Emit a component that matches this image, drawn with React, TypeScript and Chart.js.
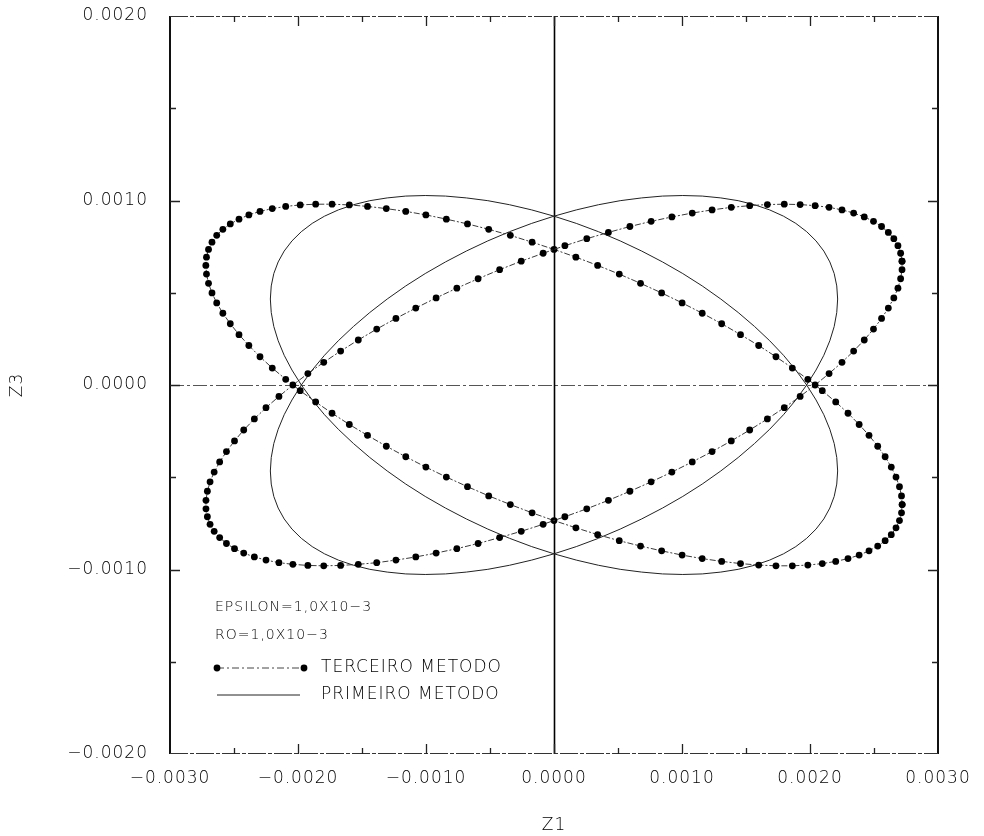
import React, { useEffect, useRef } from "react";
import { Chart, registerables } from "chart.js";

Chart.register(...registerables);

type Pt = [number, number];

// Third method: the two loops of the Z1/Z3 orbit, one entry per plotted dot.
const terceiroLoopA: Pt[] = [
  [2.719e-3, 0.671e-3], [2.708e-3, 0.714e-3], [2.687e-3, 0.755e-3], [2.655e-3, 0.793e-3], [2.612e-3, 0.827e-3],
  [2.559e-3, 0.859e-3], [2.496e-3, 0.887e-3], [2.424e-3, 0.911e-3], [2.341e-3, 0.932e-3], [2.25e-3, 0.949e-3],
  [2.149e-3, 0.963e-3], [2.04e-3, 0.972e-3], [1.923e-3, 0.978e-3], [1.799e-3, 0.98e-3], [1.667e-3, 0.978e-3],
  [1.529e-3, 0.972e-3], [1.385e-3, 0.963e-3], [1.235e-3, 0.949e-3], [1.08e-3, 0.932e-3], [0.921e-3, 0.911e-3],
  [0.759e-3, 0.887e-3], [0.593e-3, 0.859e-3], [0.425e-3, 0.827e-3], [0.256e-3, 0.793e-3], [0.085e-3, 0.755e-3],
  [-0.085e-3, 0.714e-3], [-0.256e-3, 0.671e-3], [-0.425e-3, 0.625e-3], [-0.593e-3, 0.576e-3], [-0.759e-3, 0.525e-3],
  [-0.921e-3, 0.472e-3], [-1.08e-3, 0.417e-3], [-1.235e-3, 0.361e-3], [-1.385e-3, 0.303e-3], [-1.529e-3, 0.244e-3],
  [-1.667e-3, 0.184e-3], [-1.799e-3, 0.123e-3], [-1.923e-3, 0.062e-3], [-2.04e-3, 0], [-2.149e-3, -0.062e-3],
  [-2.25e-3, -0.123e-3], [-2.341e-3, -0.184e-3], [-2.424e-3, -0.244e-3], [-2.496e-3, -0.303e-3], [-2.559e-3, -0.361e-3],
  [-2.612e-3, -0.417e-3], [-2.655e-3, -0.472e-3], [-2.687e-3, -0.525e-3], [-2.708e-3, -0.576e-3], [-2.719e-3, -0.625e-3],
  [-2.719e-3, -0.671e-3], [-2.708e-3, -0.714e-3], [-2.687e-3, -0.755e-3], [-2.655e-3, -0.793e-3], [-2.612e-3, -0.827e-3],
  [-2.559e-3, -0.859e-3], [-2.496e-3, -0.887e-3], [-2.424e-3, -0.911e-3], [-2.341e-3, -0.932e-3], [-2.25e-3, -0.949e-3],
  [-2.149e-3, -0.963e-3], [-2.04e-3, -0.972e-3], [-1.923e-3, -0.978e-3], [-1.799e-3, -0.98e-3], [-1.667e-3, -0.978e-3],
  [-1.529e-3, -0.972e-3], [-1.385e-3, -0.963e-3], [-1.235e-3, -0.949e-3], [-1.08e-3, -0.932e-3], [-0.921e-3, -0.911e-3],
  [-0.759e-3, -0.887e-3], [-0.593e-3, -0.859e-3], [-0.425e-3, -0.827e-3], [-0.256e-3, -0.793e-3], [-0.085e-3, -0.755e-3],
  [0.085e-3, -0.714e-3], [0.256e-3, -0.671e-3], [0.425e-3, -0.625e-3], [0.593e-3, -0.576e-3], [0.759e-3, -0.525e-3],
  [0.921e-3, -0.472e-3], [1.08e-3, -0.417e-3], [1.235e-3, -0.361e-3], [1.385e-3, -0.303e-3], [1.529e-3, -0.244e-3],
  [1.667e-3, -0.184e-3], [1.799e-3, -0.123e-3], [1.923e-3, -0.062e-3], [2.04e-3, 0], [2.149e-3, 0.062e-3],
  [2.25e-3, 0.123e-3], [2.341e-3, 0.184e-3], [2.424e-3, 0.244e-3], [2.496e-3, 0.303e-3], [2.559e-3, 0.361e-3],
  [2.612e-3, 0.417e-3], [2.655e-3, 0.472e-3], [2.687e-3, 0.525e-3], [2.708e-3, 0.576e-3], [2.719e-3, 0.625e-3],
];

const terceiroLoopB: Pt[] = [
  [2.72e-3, -0.648e-3], [2.715e-3, -0.693e-3], [2.699e-3, -0.735e-3], [2.672e-3, -0.774e-3], [2.635e-3, -0.811e-3],
  [2.587e-3, -0.844e-3], [2.529e-3, -0.873e-3], [2.461e-3, -0.899e-3], [2.384e-3, -0.922e-3], [2.297e-3, -0.941e-3],
  [2.201e-3, -0.956e-3], [2.096e-3, -0.968e-3], [1.983e-3, -0.976e-3], [1.862e-3, -0.98e-3], [1.734e-3, -0.98e-3],
  [1.599e-3, -0.976e-3], [1.457e-3, -0.968e-3], [1.31e-3, -0.956e-3], [1.158e-3, -0.941e-3], [1.001e-3, -0.922e-3],
  [0.841e-3, -0.899e-3], [0.676e-3, -0.873e-3], [0.51e-3, -0.844e-3], [0.341e-3, -0.811e-3], [0.171e-3, -0.774e-3],
  [0, -0.735e-3], [-0.171e-3, -0.693e-3], [-0.341e-3, -0.648e-3], [-0.51e-3, -0.601e-3], [-0.676e-3, -0.551e-3],
  [-0.841e-3, -0.499e-3], [-1.001e-3, -0.445e-3], [-1.158e-3, -0.389e-3], [-1.31e-3, -0.332e-3], [-1.457e-3, -0.273e-3],
  [-1.599e-3, -0.214e-3], [-1.734e-3, -0.153e-3], [-1.862e-3, -0.092e-3], [-1.983e-3, -0.031e-3], [-2.096e-3, 0.031e-3],
  [-2.201e-3, 0.092e-3], [-2.297e-3, 0.153e-3], [-2.384e-3, 0.214e-3], [-2.461e-3, 0.273e-3], [-2.529e-3, 0.332e-3],
  [-2.587e-3, 0.389e-3], [-2.635e-3, 0.445e-3], [-2.672e-3, 0.499e-3], [-2.699e-3, 0.551e-3], [-2.715e-3, 0.601e-3],
  [-2.72e-3, 0.648e-3], [-2.715e-3, 0.693e-3], [-2.699e-3, 0.735e-3], [-2.672e-3, 0.774e-3], [-2.635e-3, 0.811e-3],
  [-2.587e-3, 0.844e-3], [-2.529e-3, 0.873e-3], [-2.461e-3, 0.899e-3], [-2.384e-3, 0.922e-3], [-2.297e-3, 0.941e-3],
  [-2.201e-3, 0.956e-3], [-2.096e-3, 0.968e-3], [-1.983e-3, 0.976e-3], [-1.862e-3, 0.98e-3], [-1.734e-3, 0.98e-3],
  [-1.599e-3, 0.976e-3], [-1.457e-3, 0.968e-3], [-1.31e-3, 0.956e-3], [-1.158e-3, 0.941e-3], [-1.001e-3, 0.922e-3],
  [-0.841e-3, 0.899e-3], [-0.676e-3, 0.873e-3], [-0.51e-3, 0.844e-3], [-0.341e-3, 0.811e-3], [-0.171e-3, 0.774e-3],
  [0, 0.735e-3], [0.171e-3, 0.693e-3], [0.341e-3, 0.648e-3], [0.51e-3, 0.601e-3], [0.676e-3, 0.551e-3],
  [0.841e-3, 0.499e-3], [1.001e-3, 0.445e-3], [1.158e-3, 0.389e-3], [1.31e-3, 0.332e-3], [1.457e-3, 0.273e-3],
  [1.599e-3, 0.214e-3], [1.734e-3, 0.153e-3], [1.862e-3, 0.092e-3], [1.983e-3, 0.031e-3], [2.096e-3, -0.031e-3],
  [2.201e-3, -0.092e-3], [2.297e-3, -0.153e-3], [2.384e-3, -0.214e-3], [2.461e-3, -0.273e-3], [2.529e-3, -0.332e-3],
  [2.587e-3, -0.389e-3], [2.635e-3, -0.445e-3], [2.672e-3, -0.499e-3], [2.699e-3, -0.551e-3], [2.715e-3, -0.601e-3],
];

// First method: the same two loops, drawn as a plain line.
const primeiroLoopA: Pt[] = [
  [2.216e-3, 0.466e-3], [2.209e-3, 0.537e-3], [2.189e-3, 0.604e-3], [2.155e-3, 0.667e-3], [2.108e-3, 0.726e-3],
  [2.047e-3, 0.781e-3], [1.974e-3, 0.831e-3], [1.889e-3, 0.876e-3], [1.793e-3, 0.915e-3], [1.685e-3, 0.949e-3],
  [1.567e-3, 0.977e-3], [1.439e-3, 0.999e-3], [1.303e-3, 1.014e-3], [1.158e-3, 1.024e-3], [1.006e-3, 1.027e-3],
  [0.848e-3, 1.024e-3], [0.685e-3, 1.014e-3], [0.517e-3, 0.999e-3], [0.347e-3, 0.977e-3], [0.174e-3, 0.949e-3],
  [0, 0.915e-3], [-0.174e-3, 0.876e-3], [-0.347e-3, 0.831e-3], [-0.517e-3, 0.781e-3], [-0.685e-3, 0.726e-3],
  [-0.848e-3, 0.667e-3], [-1.006e-3, 0.604e-3], [-1.158e-3, 0.537e-3], [-1.303e-3, 0.466e-3], [-1.439e-3, 0.393e-3],
  [-1.567e-3, 0.317e-3], [-1.685e-3, 0.24e-3], [-1.793e-3, 0.161e-3], [-1.889e-3, 0.081e-3], [-1.974e-3, 0],
  [-2.047e-3, -0.081e-3], [-2.108e-3, -0.161e-3], [-2.155e-3, -0.24e-3], [-2.189e-3, -0.317e-3], [-2.209e-3, -0.393e-3],
  [-2.216e-3, -0.466e-3], [-2.209e-3, -0.537e-3], [-2.189e-3, -0.604e-3], [-2.155e-3, -0.667e-3], [-2.108e-3, -0.726e-3],
  [-2.047e-3, -0.781e-3], [-1.974e-3, -0.831e-3], [-1.889e-3, -0.876e-3], [-1.793e-3, -0.915e-3], [-1.685e-3, -0.949e-3],
  [-1.567e-3, -0.977e-3], [-1.439e-3, -0.999e-3], [-1.303e-3, -1.014e-3], [-1.158e-3, -1.024e-3], [-1.006e-3, -1.027e-3],
  [-0.848e-3, -1.024e-3], [-0.685e-3, -1.014e-3], [-0.517e-3, -0.999e-3], [-0.347e-3, -0.977e-3], [-0.174e-3, -0.949e-3],
  [0, -0.915e-3], [0.174e-3, -0.876e-3], [0.347e-3, -0.831e-3], [0.517e-3, -0.781e-3], [0.685e-3, -0.726e-3],
  [0.848e-3, -0.667e-3], [1.006e-3, -0.604e-3], [1.158e-3, -0.537e-3], [1.303e-3, -0.466e-3], [1.439e-3, -0.393e-3],
  [1.567e-3, -0.317e-3], [1.685e-3, -0.24e-3], [1.793e-3, -0.161e-3], [1.889e-3, -0.081e-3], [1.974e-3, 0],
  [2.047e-3, 0.081e-3], [2.108e-3, 0.161e-3], [2.155e-3, 0.24e-3], [2.189e-3, 0.317e-3], [2.209e-3, 0.393e-3],
];

const primeiroLoopB: Pt[] = [
  [2.216e-3, -0.466e-3], [2.209e-3, -0.537e-3], [2.189e-3, -0.604e-3], [2.155e-3, -0.667e-3], [2.108e-3, -0.726e-3],
  [2.047e-3, -0.781e-3], [1.974e-3, -0.831e-3], [1.889e-3, -0.876e-3], [1.793e-3, -0.915e-3], [1.685e-3, -0.949e-3],
  [1.567e-3, -0.977e-3], [1.439e-3, -0.999e-3], [1.303e-3, -1.014e-3], [1.158e-3, -1.024e-3], [1.006e-3, -1.027e-3],
  [0.848e-3, -1.024e-3], [0.685e-3, -1.014e-3], [0.517e-3, -0.999e-3], [0.347e-3, -0.977e-3], [0.174e-3, -0.949e-3],
  [0, -0.915e-3], [-0.174e-3, -0.876e-3], [-0.347e-3, -0.831e-3], [-0.517e-3, -0.781e-3], [-0.685e-3, -0.726e-3],
  [-0.848e-3, -0.667e-3], [-1.006e-3, -0.604e-3], [-1.158e-3, -0.537e-3], [-1.303e-3, -0.466e-3], [-1.439e-3, -0.393e-3],
  [-1.567e-3, -0.317e-3], [-1.685e-3, -0.24e-3], [-1.793e-3, -0.161e-3], [-1.889e-3, -0.081e-3], [-1.974e-3, 0],
  [-2.047e-3, 0.081e-3], [-2.108e-3, 0.161e-3], [-2.155e-3, 0.24e-3], [-2.189e-3, 0.317e-3], [-2.209e-3, 0.393e-3],
  [-2.216e-3, 0.466e-3], [-2.209e-3, 0.537e-3], [-2.189e-3, 0.604e-3], [-2.155e-3, 0.667e-3], [-2.108e-3, 0.726e-3],
  [-2.047e-3, 0.781e-3], [-1.974e-3, 0.831e-3], [-1.889e-3, 0.876e-3], [-1.793e-3, 0.915e-3], [-1.685e-3, 0.949e-3],
  [-1.567e-3, 0.977e-3], [-1.439e-3, 0.999e-3], [-1.303e-3, 1.014e-3], [-1.158e-3, 1.024e-3], [-1.006e-3, 1.027e-3],
  [-0.848e-3, 1.024e-3], [-0.685e-3, 1.014e-3], [-0.517e-3, 0.999e-3], [-0.347e-3, 0.977e-3], [-0.174e-3, 0.949e-3],
  [0, 0.915e-3], [0.174e-3, 0.876e-3], [0.347e-3, 0.831e-3], [0.517e-3, 0.781e-3], [0.685e-3, 0.726e-3],
  [0.848e-3, 0.667e-3], [1.006e-3, 0.604e-3], [1.158e-3, 0.537e-3], [1.303e-3, 0.466e-3], [1.439e-3, 0.393e-3],
  [1.567e-3, 0.317e-3], [1.685e-3, 0.24e-3], [1.793e-3, 0.161e-3], [1.889e-3, 0.081e-3], [1.974e-3, 0],
  [2.047e-3, -0.081e-3], [2.108e-3, -0.161e-3], [2.155e-3, -0.24e-3], [2.189e-3, -0.317e-3], [2.209e-3, -0.393e-3],
];

// Axes
const xTickValues = [-0.003, -0.002, -0.001, 0, 0.001, 0.002, 0.003];
const yTickValues = [-0.002, -0.001, 0, 0.001, 0.002];
const xMarkValues = [-0.0025, -0.002, -0.0015, -0.001, -0.0005, 0, 0.0005, 0.001, 0.0015, 0.002, 0.0025];
const yMarkValues = [-0.0015, -0.001, -0.0005, 0, 0.0005, 0.001, 0.0015];
const xTitle = "Z1";
const yTitle = "Z3";

// Legend block
const legendNotes = ["EPSILON=1,0X10\u22123", "RO=1,0X10\u22123"];
const seriesNames = ["TERCEIRO METODO", "PRIMEIRO METODO"];

const FONT = "'DejaVu Sans', 'Liberation Sans', sans-serif";

const closedLoop = (loop: Pt[]) => [...loop, loop[0]].map(([x, y]) => ({ x, y }));

const fmtTick = (v: number) =>
  (Math.abs(v) < 1e-12 ? 0 : v).toFixed(4).replace("-", "\u2212");

const isMajor = (v: number) => Math.abs(v * 1000 - Math.round(v * 1000)) < 1e-6;

const spacingPlugin = {
  id: "letterSpacing",
  beforeDraw(chart: any) {
    chart.ctx.letterSpacing = "1px";
  },
};

const framePlugin = {
  id: "plotFrame",
  beforeDatasetsDraw(chart: any) {
    const { ctx, chartArea: a, scales } = chart;
    const xs = scales.x;
    const ys = scales.y;
    ctx.save();

    // zero lines
    const x0 = Math.round(xs.getPixelForValue(0)) + 0.5;
    const y0 = Math.round(ys.getPixelForValue(0)) + 0.5;
    ctx.strokeStyle = "#555";
    ctx.lineWidth = 1;
    ctx.setLineDash([14, 3, 3, 3]);
    ctx.beginPath();
    ctx.moveTo(a.left, y0);
    ctx.lineTo(a.right, y0);
    ctx.stroke();
    ctx.setLineDash([]);
    ctx.strokeStyle = "#000";
    ctx.lineWidth = 1.6;
    ctx.beginPath();
    ctx.moveTo(x0, a.top);
    ctx.lineTo(x0, a.bottom);
    ctx.stroke();

    // frame
    ctx.strokeStyle = "#111";
    ctx.lineWidth = 2;
    ctx.beginPath();
    ctx.moveTo(a.left, a.top);
    ctx.lineTo(a.left, a.bottom);
    ctx.moveTo(a.right, a.top);
    ctx.lineTo(a.right, a.bottom);
    ctx.stroke();
    ctx.strokeStyle = "#333";
    ctx.lineWidth = 1;
    ctx.setLineDash([18, 2, 4, 2]);
    ctx.beginPath();
    ctx.moveTo(a.left, a.top + 0.5);
    ctx.lineTo(a.right, a.top + 0.5);
    ctx.moveTo(a.left, a.bottom - 0.5);
    ctx.lineTo(a.right, a.bottom - 0.5);
    ctx.stroke();
    ctx.setLineDash([]);

    // inward tick marks on all four sides
    ctx.strokeStyle = "#222";
    ctx.lineWidth = 1.3;
    ctx.beginPath();
    for (const v of xMarkValues) {
      const px = Math.round(xs.getPixelForValue(v)) + 0.5;
      const len = isMajor(v) ? 10 : 6;
      ctx.moveTo(px, a.top);
      ctx.lineTo(px, a.top + len);
      ctx.moveTo(px, a.bottom);
      ctx.lineTo(px, a.bottom - len);
    }
    for (const v of yMarkValues) {
      const py = Math.round(ys.getPixelForValue(v)) + 0.5;
      const len = isMajor(v) ? 10 : 6;
      ctx.moveTo(a.left, py);
      ctx.lineTo(a.left + len, py);
      ctx.moveTo(a.right, py);
      ctx.lineTo(a.right - len, py);
    }
    ctx.stroke();
    ctx.restore();
  },
};

const legendPlugin = {
  id: "methodLegend",
  afterDatasetsDraw(chart: any) {
    const { ctx, chartArea: a } = chart;
    ctx.save();
    ctx.fillStyle = "#000";
    ctx.textBaseline = "middle";
    ctx.textAlign = "left";

    ctx.font = `200 14px ${FONT}`;
    ctx.fillText(legendNotes[0], a.left + 45, a.top + 591);
    ctx.fillText(legendNotes[1], a.left + 45, a.top + 619);

    const x1 = a.left + 47;
    const x2 = a.left + 134;
    const yA = a.top + 652;
    const yB = a.top + 679;

    // third method sample: dotted ends joined by a dash-dot line
    ctx.strokeStyle = "#444";
    ctx.lineWidth = 1;
    ctx.setLineDash([7, 3, 2, 3]);
    ctx.beginPath();
    ctx.moveTo(x1, yA);
    ctx.lineTo(x2, yA);
    ctx.stroke();
    ctx.setLineDash([]);
    ctx.fillStyle = "#000";
    for (const px of [x1, x2]) {
      ctx.beginPath();
      ctx.arc(px, yA, 3.4, 0, Math.PI * 2);
      ctx.fill();
    }

    // first method sample: plain line
    ctx.strokeStyle = "#222";
    ctx.beginPath();
    ctx.moveTo(x1, yB);
    ctx.lineTo(x2 - 4, yB);
    ctx.stroke();

    ctx.fillStyle = "#000";
    ctx.font = `200 17px ${FONT}`;
    ctx.fillText(seriesNames[0], a.left + 151, yA);
    ctx.fillText(seriesNames[1], a.left + 151, yB);
    ctx.restore();
  },
};

export default function App() {
  const canvasRef = useRef<HTMLCanvasElement | null>(null);

  useEffect(() => {
    if (!canvasRef.current) return;
    const tickFont = { family: FONT, size: 17, weight: "200" as any };
    const dotted = {
      showLine: true,
      borderColor: "#3a3a3a",
      borderWidth: 1,
      borderDash: [6, 2, 2, 2],
      pointRadius: 3.4,
      pointBackgroundColor: "#000",
      pointBorderWidth: 0,
      tension: 0,
    };
    const plain = {
      showLine: true,
      borderColor: "#222",
      borderWidth: 1,
      pointRadius: 0,
      tension: 0,
    };
    const chart = new Chart(canvasRef.current, {
      type: "scatter",
      data: {
        datasets: [
          { label: seriesNames[0], data: closedLoop(terceiroLoopA), ...dotted },
          { label: seriesNames[0], data: closedLoop(terceiroLoopB), ...dotted },
          { label: seriesNames[1], data: closedLoop(primeiroLoopA), ...plain },
          { label: seriesNames[1], data: closedLoop(primeiroLoopB), ...plain },
        ],
      },
      options: {
        animation: false,
        responsive: true,
        maintainAspectRatio: false,
        events: [],
        layout: { padding: { top: 16, right: 46, bottom: 0, left: 0 } },
        plugins: {
          legend: { display: false },
          tooltip: { enabled: false },
        },
        scales: {
          x: {
            type: "linear",
            min: -0.003,
            max: 0.003,
            afterBuildTicks: (scale: any) => {
              scale.ticks = xTickValues.map((value) => ({ value }));
            },
            afterFit: (scale: any) => {
              scale.height = 82;
              scale.paddingLeft = 0;
              scale.paddingRight = 0;
            },
            ticks: {
              callback: (v: any) => fmtTick(Number(v)),
              font: tickFont,
              color: "#000",
              padding: 14,
              maxRotation: 0,
              autoSkip: false,
            },
            grid: { display: false, drawTicks: false },
            border: { display: false },
            title: {
              display: true,
              text: xTitle,
              font: tickFont,
              color: "#000",
              padding: { top: 0, bottom: 0 },
            },
          },
          y: {
            type: "linear",
            min: -0.002,
            max: 0.002,
            afterBuildTicks: (scale: any) => {
              scale.ticks = yTickValues.map((value) => ({ value }));
            },
            afterFit: (scale: any) => {
              scale.width = 170;
              scale.paddingTop = 0;
              scale.paddingBottom = 0;
            },
            ticks: {
              callback: (v: any) => fmtTick(Number(v)),
              font: tickFont,
              color: "#000",
              padding: 22,
              autoSkip: false,
            },
            grid: { display: false, drawTicks: false },
            border: { display: false },
            title: {
              display: true,
              text: yTitle,
              font: tickFont,
              color: "#000",
              padding: { top: 7, bottom: 0 },
            },
          },
        },
      },
      plugins: [spacingPlugin, framePlugin, legendPlugin],
    });
    return () => chart.destroy();
  }, []);

  return (
    <div style={{ position: "absolute", left: 0, top: 0, width: 984, height: 836, background: "#fff" }}>
      <canvas ref={canvasRef} />
    </div>
  );
}
